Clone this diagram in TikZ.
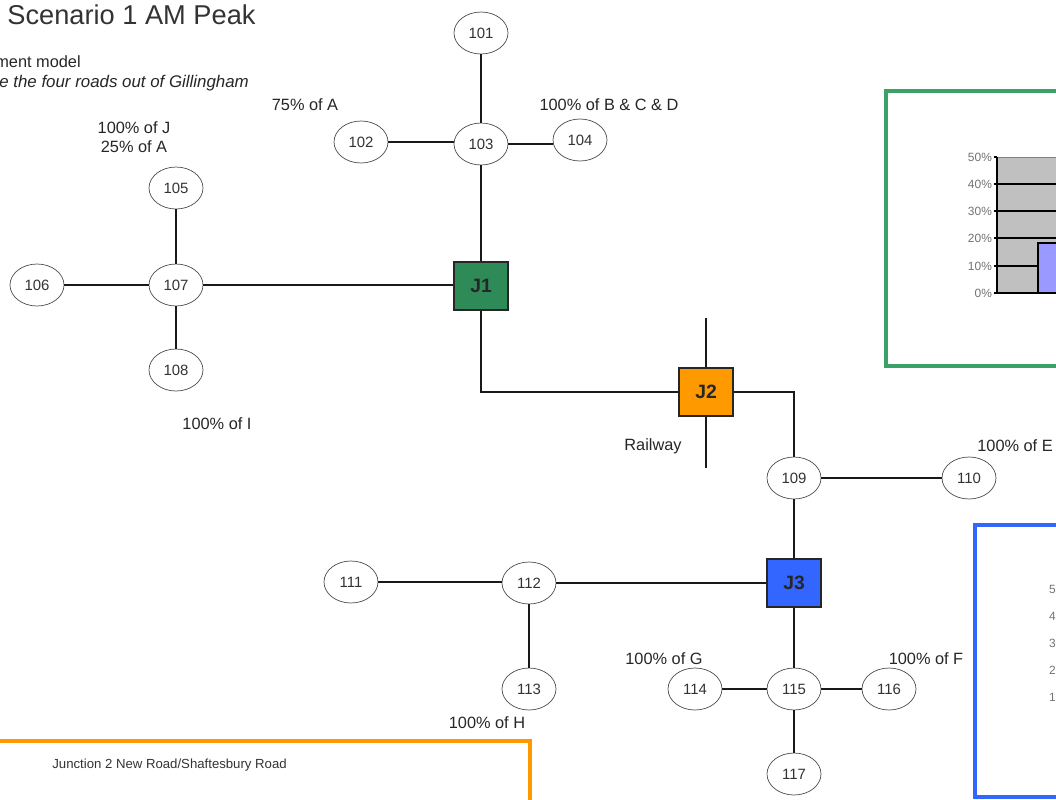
\documentclass[tikz,border=0pt]{standalone}
\usepackage{fontspec}
\setmainfont{Liberation Sans}
\usetikzlibrary{shapes.geometric}
\usetikzlibrary{positioning}

\definecolor{jgreen}{RGB}{46,139,87}
\definecolor{boxgreen}{RGB}{60,160,105}
\definecolor{jorange}{RGB}{255,153,0}
\definecolor{jblue}{RGB}{51,102,255}
\definecolor{chartgray}{RGB}{192,192,192}
\definecolor{barblue}{RGB}{153,153,255}

\tikzset{
  zone/.style={ellipse,draw=black!70,thin,minimum width=1.08cm,minimum height=0.84cm,inner sep=0pt,font=\fontsize{8.5}{10}\selectfont,text=black!80},
  junction/.style={rectangle,draw=black!85,line width=0.8pt,minimum width=1.08cm,minimum height=0.96cm,inner sep=0pt,font=\fontsize{11}{13}\selectfont\bfseries,text=black!85},
  road/.style={line width=0.8pt,black!90},
  lbl/.style={font=\fontsize{9.3}{11}\selectfont,text=black!85,inner sep=0pt},
  tick/.style={font=\fontsize{6.8}{8}\selectfont,text=black!55,anchor=east,inner sep=1pt}
}

\begin{document}
\begin{tikzpicture}[x=0.02cm,y=-0.02cm]
\useasboundingbox (0,0) rectangle (1056,799);

% text at the top left
\node[font=\fontsize{15.5}{18}\selectfont,text=black!80,anchor=west,inner sep=0pt] (title) at (7,15) {Scenario 1 AM Peak};
\node[lbl,anchor=west] (note1) at (-5,62) {ment model};
\node[lbl,anchor=west,font=\fontsize{9.6}{11}\selectfont\itshape] (note2) at (-1,83) {e the four roads out of Gillingham};

% zones
\node[zone] (n101) at (481,33) {101};
\node[zone] (n102) at (361,142) {102};
\node[zone] (n103) at (481,144) {103};
\node[zone] (n104) at (580,140) {104};
\node[zone] (n105) at (176,188) {105};
\node[zone] (n106) at (37,285) {106};
\node[zone] (n107) at (176,285) {107};
\node[zone] (n108) at (176,370) {108};
\node[zone] (n109) at (794,478) {109};
\node[zone] (n110) at (969,478) {110};
\node[zone] (n111) at (351,582) {111};
\node[zone] (n112) at (529,583) {112};
\node[zone] (n113) at (529,689) {113};
\node[zone] (n114) at (695,689) {114};
\node[zone] (n115) at (794,689) {115};
\node[zone] (n116) at (889,689) {116};
\node[zone] (n117) at (794,774) {117};

% junctions
\node[junction,fill=jgreen] (J1) at (481,286) {J1};
\node[junction,fill=jorange] (J2) at (706,392) {J2};
\node[junction,fill=jblue] (J3) at (794,583) {J3};

% roads
\draw[road] (n101) -- (n103);
\draw[road] (n102.east) -- (n102.east -| n103.west);
\draw[road] (n103.east) -- (n103.east -| n104.west);
\draw[road] (n103) -- (J1);
\draw[road] (n105) -- (n107);
\draw[road] (n106) -- (n107);
\draw[road] (n107) -- (n108);
\draw[road] (n107.east) -- (n107.east -| J1.west);
\draw[road] (J1) |- (J2);
\draw[road] (J2) -| (n109);
\draw[road] (n109) -- (n110);
\draw[road] (n109) -- (J3);
\draw[road] (n111.east) -- (n111.east -| n112.west);
\draw[road] (n112) -- (J3);
\draw[road] (n112) -- (n113);
\draw[road] (J3) -- (n115);
\draw[road] (n114) -- (n115);
\draw[road] (n115) -- (n116);
\draw[road] (n115) -- (n117);

% railway
\coordinate (railN) at (706,318);
\coordinate (railS) at (706,468);
\draw[road] (railN) -- (J2) -- (railS);
\node[lbl] (railway) at (653,446) {Railway};

% shares
\node[lbl] (shareA) at (305,105) {75\% of A};
\node[lbl] (shareBCD) at (609,105) {100\% of B \& C \& D};
\node[lbl,align=center] (shareJ) at (134,137) {100\% of J\\25\% of A};
\node[lbl] (shareI) at (217,424) {100\% of I};
\node[lbl,anchor=west] (shareE) at (977,446) {100\% of E};
\node[lbl] (shareG) at (664,659) {100\% of G};
\node[lbl] (shareF) at (926,659) {100\% of F};
\node[lbl] (shareH) at (487,723) {100\% of H};

% green box with chart
\draw[boxgreen,line width=2.2pt] (1070,91) -- (886,91) -- (886,366) -- (1070,366);
\fill[chartgray] (997,157) rectangle (1070,293);
\draw[black!50,thin] (997,157) -- (1070,157);
\foreach \p/\y in {40/184,30/211,20/238,10/266}
  \draw[black,line width=0.6pt] (997,\y) -- (1070,\y);
\draw[fill=barblue,line width=0.6pt] (1038,293) rectangle (1070,243);
\draw[black,line width=0.6pt] (997,157) -- (997,293) -- (1070,293);
\foreach \p/\y in {50/157,40/184,30/211,20/238,10/266,0/293}{
  \draw[black,line width=0.6pt] (994,\y) -- (997,\y);
  \node[tick] at (994,\y) {\p\%};
}

% blue box
\draw[jblue,line width=2.2pt] (1070,525) -- (975,525) -- (975,797) -- (1070,797);
\foreach \p/\y in {50/589,40/616,30/643,20/670,10/697,0/724}
  \node[tick,anchor=west] at (1047,\y) {\ifnum\p=0 \hspace{6pt}\fi\p\%};

% orange box
\draw[jorange,line width=2.2pt] (-10,741) -- (530,741) -- (530,810);
\node[font=\fontsize{7.5}{9}\selectfont,text=black!80,anchor=west,inner sep=0pt] (j2name) at (52,765) {Junction 2 New Road/Shaftesbury Road};

\end{tikzpicture}
\end{document}
